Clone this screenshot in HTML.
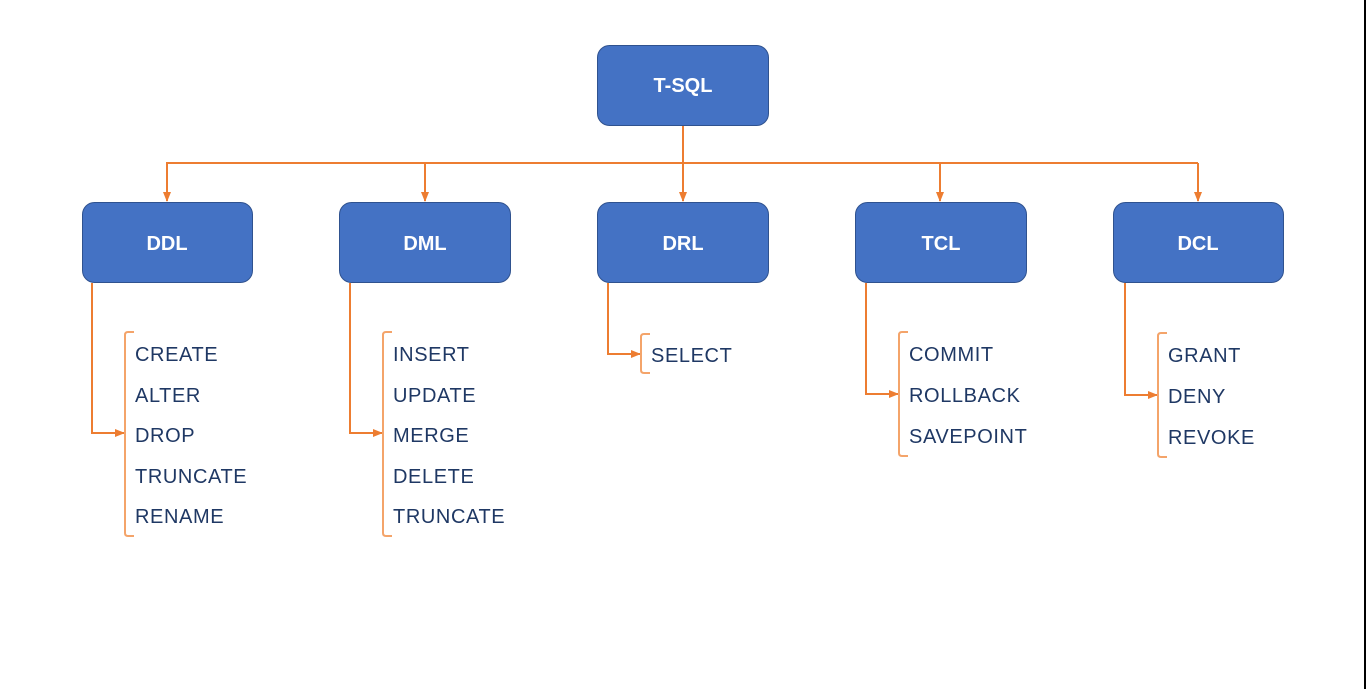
<!DOCTYPE html>
<html><head><style>
body{margin:0;background:#fff;}
svg{display:block;}
.b{font-family:"Liberation Sans",sans-serif;font-weight:bold;font-size:20px;fill:#fff;text-anchor:middle;}
.t{font-family:"Liberation Sans",sans-serif;font-size:20px;fill:#1f3864;letter-spacing:0.6px;}
</style></head><body>
<svg width="1366" height="689" viewBox="0 0 1366 689">
<defs><marker id="a" markerWidth="10" markerHeight="8" refX="9" refY="4" orient="auto" markerUnits="userSpaceOnUse"><path d="M0,0 L10,4 L0,8 z" fill="#ed7d31"/></marker></defs>
<rect x="1364" y="0" width="2" height="689" fill="#000"/>
<g fill="#4472c4" stroke="#2f528f" stroke-width="1">
<rect x="597.5" y="45.5" width="171" height="80" rx="12"/>
<rect x="82.5" y="202.5" width="170" height="80" rx="12"/>
<rect x="339.5" y="202.5" width="171" height="80" rx="12"/>
<rect x="597.5" y="202.5" width="171" height="80" rx="12"/>
<rect x="855.5" y="202.5" width="171" height="80" rx="12"/>
<rect x="1113.5" y="202.5" width="170" height="80" rx="12"/>
</g>
<g class="b"><text x="683" y="92">T-SQL</text><text x="167" y="250">DDL</text><text x="425" y="250">DML</text><text x="683" y="250">DRL</text><text x="941" y="250">TCL</text><text x="1198" y="250">DCL</text></g>
<g stroke="#ed7d31" stroke-width="2" fill="none">
<path d="M683 126 V163"/><path d="M166 163 H1198"/>
<path d="M167 163 V201" marker-end="url(#a)"/><path d="M425 163 V201" marker-end="url(#a)"/><path d="M683 163 V201" marker-end="url(#a)"/><path d="M940 163 V201" marker-end="url(#a)"/><path d="M1198 163 V201" marker-end="url(#a)"/>
<path d="M92 283 V433 H124" marker-end="url(#a)"/>
<path d="M350 283 V433 H382" marker-end="url(#a)"/>
<path d="M608 283 V354 H640" marker-end="url(#a)"/>
<path d="M866 283 V394 H898" marker-end="url(#a)"/>
<path d="M1125 283 V395 H1157" marker-end="url(#a)"/>
</g>
<g stroke="#f4a46a" stroke-width="2" fill="none">
<path d="M134 332 H128 Q125 332 125 335 V533 Q125 536 128 536 H134"/>
<path d="M392 332 H386 Q383 332 383 335 V533 Q383 536 386 536 H392"/>
<path d="M650 334 H644 Q641 334 641 337 V370 Q641 373 644 373 H650"/>
<path d="M908 332 H902 Q899 332 899 335 V453 Q899 456 902 456 H908"/>
<path d="M1167 333 H1161 Q1158 333 1158 336 V454 Q1158 457 1161 457 H1167"/>
</g>
<g class="t">
<text x="135" y="361">CREATE</text><text x="135" y="402">ALTER</text><text x="135" y="442">DROP</text><text x="135" y="483">TRUNCATE</text><text x="135" y="523">RENAME</text>
<text x="393" y="361">INSERT</text><text x="393" y="402">UPDATE</text><text x="393" y="442">MERGE</text><text x="393" y="483">DELETE</text><text x="393" y="523">TRUNCATE</text>
<text x="651" y="362">SELECT</text>
<text x="909" y="361">COMMIT</text><text x="909" y="402">ROLLBACK</text><text x="909" y="443">SAVEPOINT</text>
<text x="1168" y="362">GRANT</text><text x="1168" y="403">DENY</text><text x="1168" y="444">REVOKE</text>
</g>
</svg>
</body></html>
